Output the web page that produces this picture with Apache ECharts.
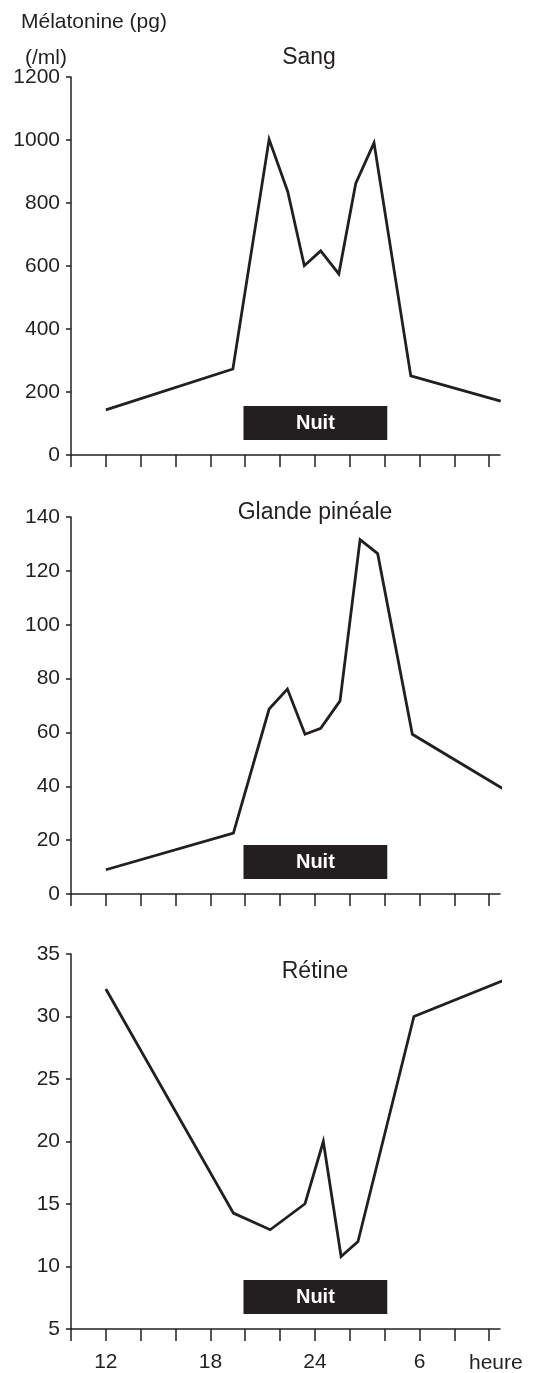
<!DOCTYPE html>
<html>
<head>
<meta charset="utf-8">
<script src="https://cdn.jsdelivr.net/npm/echarts@6/dist/echarts.min.js"></script>
<style>
  html, body { margin: 0; padding: 0; background: #ffffff; }
  #chart { width: 534px; height: 1373px; }
</style>
</head>
<body>
<div id="chart"></div>
<script>
// ---- Data ----
const panelTitles = ['Sang', 'Glande pinéale', 'Rétine'];

const hoursSang = [12, 19.29, 21.37, 22.44, 23.39, 24.33, 25.37, 26.34, 27.39, 29.5, 34.66];
const sang      = [143, 273, 1002, 836, 601, 648, 575, 862, 991, 251, 171];

const hoursPineale = [12, 19.32, 21.37, 22.42, 23.43, 24.33, 25.44, 26.59, 27.6, 29.59, 34.77];
const pineale      = [9, 22.6, 68.7, 76.1, 59.3, 61.5, 71.7, 131.6, 126.4, 59.3, 39.2];

const hoursRetine = [12, 19.32, 21.43, 23.43, 24.48, 25.5, 26.47, 29.68, 35.2];
const retine      = [32.2, 14.27, 12.94, 15.02, 20.0, 10.8, 12.0, 30.0, 33.1];

const xTicks = [10, 12, 14, 16, 18, 20, 22, 24, 26, 28, 30, 32, 34];
const xTickValues = [12, 18, 24, 30];
const xTickLabels = ['12', '18', '24', '6'];

const nightStart = 19.9;
const nightEnd = 28.15;
const nightLabel = 'Nuit';
// night bar vertical extent per panel [low, high] in value units
const nightBand = [[47.6, 155.6], [5.57, 18.2], [6.2, 8.92]];

const yMins = [0, 0, 5];
const yMaxs = [1200, 140, 35];
const yIntervals = [200, 20, 5];

// ---- Layout / style ----
const INK = '#231f20';
const FONT = '"Liberation Sans", Arial, Helvetica, sans-serif';
const grids = [
  { left: 71, width: 429, top: 77, height: 378 },
  { left: 71, width: 429, top: 517, height: 377 },
  { left: 71, width: 429, top: 954, height: 375 }
];

const seriesX = [hoursSang, hoursPineale, hoursRetine];
const seriesY = [sang, pineale, retine];

const xAxes = grids.map((g, i) => ({
  type: 'value', gridIndex: i, min: 10, max: 34.62,
  axisLine: { show: true, onZero: false, lineStyle: { color: INK, width: 1.5 } },
  axisTick: { show: true, inside: false, length: 12, customValues: xTicks, lineStyle: { color: INK, width: 1.5 } },
  splitLine: { show: false },
  axisLabel: {
    show: i === 2, margin: 23, color: INK, fontSize: 21, fontFamily: FONT,
    customValues: xTickValues,
    formatter: v => { const k = xTickValues.indexOf(v); return k >= 0 ? xTickLabels[k] : ''; }
  }
}));

const yAxes = grids.map((g, i) => ({
  type: 'value', gridIndex: i, min: yMins[i], max: yMaxs[i], interval: yIntervals[i],
  axisLine: { show: true, onZero: false, lineStyle: { color: INK, width: 1.5 } },
  axisTick: { show: true, inside: false, length: 5, lineStyle: { color: INK, width: 1.5 } },
  splitLine: { show: false },
  axisLabel: { margin: 11, color: INK, fontSize: 21, fontFamily: FONT, formatter: v => String(v) }
}));

const series = seriesX.map((xs, i) => ({
  type: 'line', xAxisIndex: i, yAxisIndex: i,
  data: xs.map((x, k) => [x, seriesY[i][k]]),
  showSymbol: false, symbol: 'none', clip: false,
  lineStyle: { color: INK, width: 2.8, join: 'miter' },
  itemStyle: { color: INK },
  silent: true, animation: false,
  markArea: {
    silent: true,
    itemStyle: { color: INK, opacity: 1 },
    label: { show: true, position: 'inside', color: '#ffffff', fontWeight: 'bold', fontSize: 20, fontFamily: FONT },
    data: [[
      { name: nightLabel, xAxis: nightStart, yAxis: nightBand[i][0] },
      { xAxis: nightEnd, yAxis: nightBand[i][1] }
    ]]
  }
}));

const titleCenters = [[309, 58], [315, 513], [315, 972]];
const graphics = panelTitles.map((t, i) => ({
  type: 'text', x: titleCenters[i][0], y: titleCenters[i][1],
  style: { text: t, fill: INK, font: '23px ' + FONT, textAlign: 'center', textVerticalAlign: 'middle' }
}));
graphics.push(
  { type: 'text', x: 21, y: 22, style: { text: 'Mélatonine (pg)', fill: INK, font: '21px ' + FONT, textAlign: 'left', textVerticalAlign: 'middle' } },
  { type: 'text', x: 25, y: 58, style: { text: '(/ml)', fill: INK, font: '21px ' + FONT, textAlign: 'left', textVerticalAlign: 'middle' } },
  { type: 'text', x: 469, y: 1363, style: { text: 'heure', fill: INK, font: '21px ' + FONT, textAlign: 'left', textVerticalAlign: 'middle' } }
);

const chart = echarts.init(document.getElementById('chart'), null, { renderer: 'canvas' });
chart.setOption({
  animation: false,
  backgroundColor: '#ffffff',
  grid: grids.map(g => Object.assign({ containLabel: false }, g)),
  xAxis: xAxes,
  yAxis: yAxes,
  series: series,
  graphic: graphics
});
</script>
</body>
</html>
